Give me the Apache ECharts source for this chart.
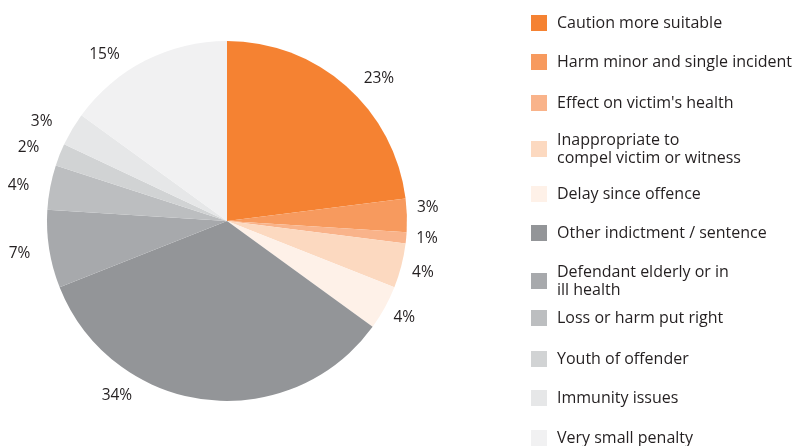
<!DOCTYPE html>
<html>
<head>
<meta charset="utf-8">
<script src="https://cdn.jsdelivr.net/npm/echarts@6/dist/echarts.min.js"></script>
<style>
  html, body { margin: 0; padding: 0; background: #fff; }
  #chart { width: 796px; height: 446px; }
</style>
</head>
<body>
<div id="chart"></div>
<script>
// categories and shares (%)
var categories = [
  "Caution more suitable",
  "Harm minor and single incident",
  "Effect on victim's health",
  "Inappropriate to\ncompel victim or witness",
  "Delay since offence",
  "Other indictment / sentence",
  "Defendant elderly or in\nill health",
  "Loss or harm put right",
  "Youth of offender",
  "Immunity issues",
  "Very small penalty"
];
var shares = [23, 3, 1, 4, 4, 34, 7, 4, 2, 3, 15];
var colors = ["#F58232", "#F79A5E", "#F9B38A", "#FCD9C0", "#FEF1E8",
              "#939598", "#A7A9AC", "#BCBEC0", "#D1D3D4", "#E6E7E8", "#F1F1F2"];

// legend icon top positions (px)
var legendTops = [14, 53, 94, 131, 185, 224, 263, 309, 350, 389, 429];

// small nudges so labels sit where the original put them
var labelOffsets = [null, [-11, -7], [-11, 0], [-10, 4], [-11, 5],
                    [-60, -14], [2, 3], null, [0, -3], [0, -3], [-10, 3]];

var myChart = echarts.init(document.getElementById("chart"));

var pieData = categories.map(function (c, i) {
  var d = { name: c, value: shares[i], itemStyle: { color: colors[i] } };
  if (labelOffsets[i]) d.label = { offset: labelOffsets[i] };
  return d;
});

var legends = categories.map(function (c, i) {
  return {
    data: [c],
    left: 531,
    top: legendTops[i],
    orient: "vertical",
    icon: "rect",
    itemWidth: 16,
    itemHeight: 16,
    selectedMode: false,
    padding: 0,
    textStyle: {
      fontFamily: "Open Sans",
      fontSize: 16,
      color: "#231F20",
      lineHeight: 18,
      verticalAlign: "top",
      padding: [0, 0, 0, 5]
    }
  };
});

var option = {
  animation: false,
  legend: legends,
  series: [{
    type: "pie",
    center: [227, 221],
    radius: [0, 180],
    startAngle: 90,
    clockwise: true,
    data: pieData,
    itemStyle: { borderWidth: 0 },
    label: {
      show: true,
      position: "outside",
      formatter: "{c}%",
      fontFamily: "Open Sans",
      fontSize: 15.5,
      color: "#231F20",
      overflow: "none"
    },
    labelLine: { show: false, length: 10, length2: 6 },
    emphasis: { disabled: true }
  }]
};

myChart.setOption(option);
window.addEventListener("resize", function () { myChart.resize(); });
</script>
</body>
</html>
